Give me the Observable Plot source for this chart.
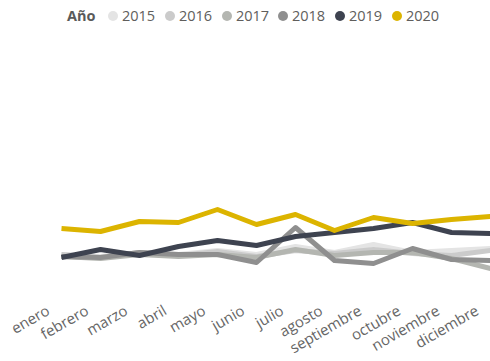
<!DOCTYPE html>
<html>
<head>
<meta charset="utf-8">
<script src="https://cdn.jsdelivr.net/npm/d3@7"></script>
<script src="https://cdn.jsdelivr.net/npm/@observablehq/plot@0.6"></script>
<style>
  html, body { margin: 0; padding: 0; background: #fff; }
  body { width: 490px; height: 361px; overflow: hidden; font-family: "Open Sans", "Noto Sans", sans-serif; }
  #legend { height: 34px; position: relative; font-size: 14.5px; color: #605e5c; }
  #legend .title { position: absolute; left: 67px; top: 6px; font-weight: bold; color: #5a5a5a; }
  #legend .item { position: absolute; top: 6px; display: flex; align-items: center; }
  #legend .sw { width: 10px; height: 10px; border-radius: 50%; margin-right: 4px; }
</style>
</head>
<body>
<div id="legend"></div>
<div id="chart"></div>
<script>
const months = ["enero","febrero","marzo","abril","mayo","junio","julio","agosto","septiembre","octubre","noviembre","diciembre"];
const years = ["2015","2016","2017","2018","2019","2020"];
const colors = ["#e4e4e4","#cbcbcb","#b4b6b1","#8f8f8f","#3e4350","#dcb400"];
const v2015 = [46,44,48,46,50,46,54,48,56,48,50,52];
const v2016 = [46,43,48,45,49,44,50,47,51,47,45,50];
const v2017 = [44,42,46,44,46,43,51,45,48,48,42,32];
const v2018 = [44,43,48,46,46,38,73,40,37,52,41,40];
const v2019 = [43,51,45,54,60,55,64,68,72,78,68,67];
const v2020 = [72,69,79,78,91,76,86,70,83,77,81,84];
const series = [v2015, v2016, v2017, v2018, v2019, v2020];

const data = [];
years.forEach((y, i) => months.forEach((m, j) => data.push({year: y, month: m, value: series[i][j]})));

// legend
const legend = document.getElementById("legend");
const t = document.createElement("span"); t.className = "title"; t.textContent = "Año"; legend.appendChild(t);
const legX = [108, 165, 222, 278, 335, 392];
years.forEach((y, i) => {
  const it = document.createElement("span"); it.className = "item"; it.style.left = legX[i] + "px";
  const sw = document.createElement("span"); sw.className = "sw"; sw.style.background = colors[i];
  const lb = document.createElement("span"); lb.textContent = y;
  it.appendChild(sw); it.appendChild(lb); legend.appendChild(it);
});

const H = 327;
const chart = Plot.plot({
  width: 490,
  height: H,
  marginLeft: 60,
  marginRight: 0,
  marginTop: 10,
  marginBottom: 66,
  style: {fontFamily: "'Open Sans', sans-serif", fontSize: "15px", color: "#666", background: "#fff"},
  x: {type: "point", domain: months, range: [60, 490], padding: 0, label: null},
  y: {domain: [0, 100], range: [266, 166], axis: null},
  color: {domain: years, range: colors},
  marks: [
    Plot.axisX({tickSize: 0, tickPadding: 14, tickRotate: -30, fill: "#666", dx: -13, fontSize: 15, label: null}),
    Plot.line(data, {x: "month", y: "value", z: "year", stroke: "year", strokeWidth: 5, strokeLinejoin: "round", strokeLinecap: "butt"})
  ]
});
document.getElementById("chart").appendChild(chart);
</script>
</body>
</html>
